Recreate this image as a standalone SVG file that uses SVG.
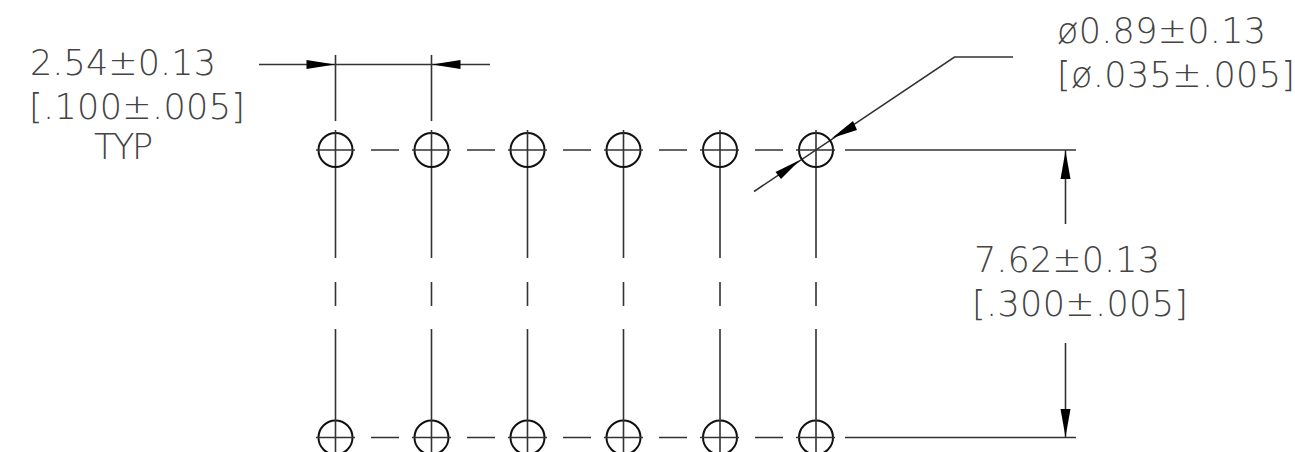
<svg xmlns="http://www.w3.org/2000/svg" width="1295" height="452" viewBox="0 0 1295 452">
<style>
.l{stroke:#333;stroke-width:1.6;fill:none}
.c{stroke:#111;stroke-width:2;fill:none}
.a{fill:#000;stroke:none}
text{font-family:"DejaVu Sans","Liberation Sans",sans-serif;font-weight:200;font-size:35px;fill:#444}
</style>
<rect width="1295" height="452" fill="#fff"/>
<g id="connectors">
<path class="l" d="M335.5 55V121M431.5 55V121M259 64.500H490"/>
<path class="l" d="M335.500 166V258M335.500 282V306M335.500 329V419M431.500 166V258M431.500 282V306M431.500 329V419M527.500 166V258M527.500 282V306M527.500 329V419M623.500 166V258M623.500 282V306M623.500 329V419M720 166V258M720 282V306M720 329V419M816 166V258M816 282V306M816 329V419"/>
<path class="l" d="M371 150H399M467 150H495M563 150H591M659 150H687M755 150H783M371 437.500H399M467 437.500H495M563 437.500H591M659 437.500H687M755 437.500H783"/>
<path class="l" d="M845 150H1076M845 437.500H1076M1065.500 150V224M1065.500 343V437"/>
<path class="l" d="M1013 57H954.500L754 191.500"/>
<polygon class="a" points="335,64.500 306.500,60 306.500,69"/>
<polygon class="a" points="432,64.500 460.500,60 460.500,69"/>
<polygon class="a" points="1065.500,151 1060.500,179 1070.500,179"/>
<polygon class="a" points="1065.500,437 1060.500,409 1070.500,409"/>
<polygon class="a" points="832,138 853,121 857,130"/>
<polygon class="a" points="800,160 775.500,172 781,179"/>
</g>
<g id="holes-top" class="c">
<circle cx="335.500" cy="150" r="17"/><circle cx="431.500" cy="150" r="17"/><circle cx="527.500" cy="150" r="17"/><circle cx="623.500" cy="150" r="17"/><circle cx="720" cy="150" r="17"/><circle cx="816" cy="150" r="17"/>
</g>
<g id="holes-bottom" class="c">
<circle cx="335.500" cy="437.500" r="17"/><circle cx="431.500" cy="437.500" r="17"/><circle cx="527.500" cy="437.500" r="17"/><circle cx="623.500" cy="437.500" r="17"/><circle cx="720" cy="437.500" r="17"/><circle cx="816" cy="437.500" r="17"/>
</g>
<g id="cross" class="l">
<path d="M316 150H355M335.500 130V166M412 150H451M431.500 130V166M508 150H547M527.500 130V166M604 150H643M623.500 130V166M700 150H739M720 130V166M796 150H835M816 130V166"/>
<path d="M316 437.500H355M335.500 419V452M412 437.500H451M431.500 419V452M508 437.500H547M527.500 419V452M604 437.500H643M623.500 419V452M700 437.500H739M720 419V452M796 437.500H835M816 419V452"/>
</g>
<g id="label-pitch">
<text x="30" y="75" textLength="186">2.54±0.13</text>
<text x="29" y="119" textLength="216">[.100±.005]</text>
<text x="94" y="159" textLength="59">TYP</text>
</g>
<g id="label-dia">
<text x="1057" y="43" textLength="209">ø0.89±0.13</text>
<text x="1057" y="87" textLength="238">[ø.035±.005]</text>
</g>
<g id="label-span">
<text x="974" y="272" textLength="186">7.62±0.13</text>
<text x="972" y="316" textLength="216">[.300±.005]</text>
</g>
</svg>
